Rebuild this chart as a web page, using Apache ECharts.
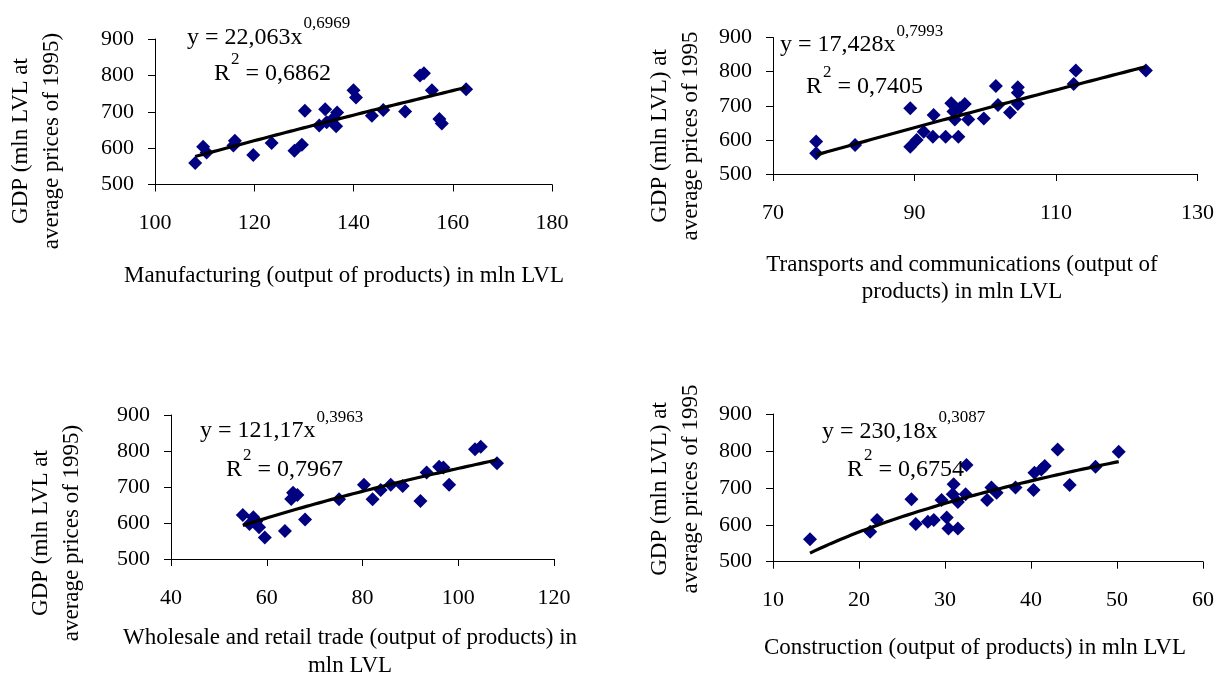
<!DOCTYPE html>
<html>
<head>
<meta charset="utf-8">
<script src="https://cdn.jsdelivr.net/npm/echarts@6/dist/echarts.min.js"></script>
<style>
html,body{margin:0;padding:0;background:#fff;}
#c{width:1217px;height:678px;}
</style>
</head>
<body>
<div id="c"></div>
<script>
// ---------- DATA ----------
// Panel 1: Manufacturing
const manufX = [108.1,109.7,110.4,116.1,115.8,119.8,123.5,128.1,129.6,130.2,133.1,134.3,134.6,136.5,136.7,135.6,140.0,140.5,143.7,146.0,150.4,153.4,154.2,155.8,157.3,157.8,162.7];
const manufY = [559,604,588,620,607,581,614,593,609,703,662,707,671,660,698,677,759,739,689,705,701,800,806,759,680,668,762];
// Panel 2: Transports and communications
const transX = [76.1,76.1,81.6,89.4,89.4,90.3,91.3,92.6,92.7,94.4,95.2,95.5,95.7,96.2,96.4,97.1,97.6,99.8,101.5,101.8,103.5,104.6,104.6,104.6,112.5,112.8,122.7];
const transY = [595,561,585,693,580,600,624,609,673,609,707,683,660,609,693,705,660,663,758,702,680,754,738,705,764,803,803];
// Panel 3: Wholesale and retail trade
const tradeX = [55.0,56.4,57.2,57.8,58.4,59.6,63.8,65.1,65.5,66.4,68.0,75.1,80.3,82.1,83.8,85.9,88.4,92.1,93.4,96.0,96.9,98.1,103.5,104.7,108.1];
const tradeY = [622,597,616,604,588,560,578,667,684,678,610,666,706,666,692,706,703,661,740,756,754,706,805,812,766];
// Panel 4: Construction
const constrX = [14.3,21.3,22.1,26.1,26.6,28.0,28.7,29.6,30.2,30.4,31.0,30.9,31.5,31.5,32.4,32.5,34.9,35.4,36.0,38.2,40.3,40.4,41.2,41.6,43.1,44.5,47.5,50.2];
const constrY = [561,581,613,669,602,608,613,667,620,590,710,683,662,590,683,762,667,701,687,701,694,741,750,759,804,708,757,798];

// Power trendline coefficients shown on the chart: y = a * x^b
const trendA = [22.063, 17.428, 121.17, 230.18];
const trendB = [0.6969, 0.7993, 0.3963, 0.3087];
const eqMain = ['y = 22,063x', 'y = 17,428x', 'y = 121,17x', 'y = 230,18x'];
const eqExp = ['0,6969', '0,7993', '0,3963', '0,3087'];
const r2Text = [' = 0,6862', ' = 0,7405', ' = 0,7967', ' = 0,6754'];

const xMin = [100, 70, 40, 10];
const xMax = [180, 130, 120, 60];
const xStep = [20, 20, 20, 10];
const yMin = 500, yMax = 900, yStep = 100;

const xTitles = [
  ['Manufacturing (output of products) in mln LVL'],
  ['Transports and communications (output of', 'products) in mln LVL'],
  ['Wholesale and retail trade (output of products) in', 'mln LVL'],
  ['Construction (output of products) in mln LVL']
];
const yTitles = [
  'GDP (mln LVL at\naverage prices of 1995)',
  'GDP (mln LVL) at\naverage prices of 1995',
  'GDP (mln LVL at\naverage prices of 1995)',
  'GDP (mln LVL) at\naverage prices of 1995'
];

// ---------- LAYOUT ----------
const FONT = "'Liberation Serif', 'Times New Roman', serif";
const grids = [
  {left: 155, top: 39, width: 397, height: 145.5},
  {left: 773, top: 37.5, width: 425, height: 136.5},
  {left: 171, top: 415, width: 383, height: 144},
  {left: 773, top: 414, width: 431, height: 147.7}
];
const eqPos = [
  {x: 187, y: 37.5, rx: 214, ry: 74},
  {x: 780, y: 45, rx: 806, ry: 86.5},
  {x: 200, y: 431, rx: 226, ry: 470},
  {x: 822, y: 431.5, rx: 847, ry: 470}
];
const xTitlePos = [
  {x: 344, y: [276]},
  {x: 962, y: [265, 292]},
  {x: 350, y: [638, 666]},
  {x: 975, y: [648]}
];
const yTitlePos = [
  {x: 36, y: 141}, {x: 675, y: 136}, {x: 56, y: 533}, {x: 675, y: 489}
];

const xsAll = [manufX, transX, tradeX, constrX];
const ysAll = [manufY, transY, tradeY, constrY];

const measureCtx = document.createElement('canvas').getContext('2d');
function textW(t, size) {
  measureCtx.font = size + 'px ' + FONT;
  return measureCtx.measureText(t).width;
}

const EQ = 24, SUP = 17;
const xAxis = [], yAxis = [], series = [], graphic = [];
for (let i = 0; i < 4; i++) {
  xAxis.push({
    type: 'value', gridIndex: i, min: xMin[i], max: xMax[i], interval: xStep[i],
    axisLine: {show: true, onZero: false, lineStyle: {color: '#000', width: 1}},
    axisTick: {show: true, length: 7, lineStyle: {color: '#000'}},
    splitLine: {show: false},
    axisLabel: {color: '#000', fontFamily: FONT, fontSize: 22, margin: 28}
  });
  yAxis.push({
    type: 'value', gridIndex: i, min: yMin, max: yMax, interval: yStep,
    axisLine: {show: true, onZero: false, lineStyle: {color: '#000', width: 1}},
    axisTick: {show: true, length: 7, lineStyle: {color: '#000'}},
    splitLine: {show: false},
    axisLabel: {color: '#000', fontFamily: FONT, fontSize: 22, margin: 21}
  });
  const xs = xsAll[i], ys = ysAll[i];
  series.push({
    type: 'scatter', xAxisIndex: i, yAxisIndex: i,
    symbol: 'diamond', symbolSize: 14,
    itemStyle: {color: '#000080', opacity: 1},
    data: xs.map((x, k) => [x, ys[k]]), z: 2
  });
  const lo = Math.min(...xs), hi = Math.max(...xs);
  const trend = [];
  const n = 60;
  for (let k = 0; k <= n; k++) {
    const x = lo + (hi - lo) * k / n;
    trend.push([x, trendA[i] * Math.pow(x, trendB[i])]);
  }
  series.push({
    type: 'line', xAxisIndex: i, yAxisIndex: i, data: trend,
    showSymbol: false, symbol: 'none', silent: true,
    lineStyle: {color: '#000', width: 3.2}, z: 3
  });

  // equation texts
  const p = eqPos[i];
  graphic.push({type: 'text', x: p.x, y: p.y, z: 10,
    style: {text: eqMain[i], font: EQ + 'px ' + FONT, fill: '#000', align: 'left', verticalAlign: 'middle'}});
  graphic.push({type: 'text', x: p.x + textW(eqMain[i], EQ) + 1, y: p.y - 13.5, z: 10,
    style: {text: eqExp[i], font: SUP + 'px ' + FONT, fill: '#000', align: 'left', verticalAlign: 'middle'}});
  graphic.push({type: 'text', x: p.rx, y: p.ry, z: 10,
    style: {text: 'R', font: EQ + 'px ' + FONT, fill: '#000', align: 'left', verticalAlign: 'middle'}});
  const rw = textW('R', EQ);
  graphic.push({type: 'text', x: p.rx + rw + 1, y: p.ry - 14, z: 10,
    style: {text: '2', font: SUP + 'px ' + FONT, fill: '#000', align: 'left', verticalAlign: 'middle'}});
  graphic.push({type: 'text', x: p.rx + rw + 1 + textW('2', SUP), y: p.ry, z: 10,
    style: {text: r2Text[i], font: EQ + 'px ' + FONT, fill: '#000', align: 'left', verticalAlign: 'middle'}});

  // axis titles
  const xt = xTitlePos[i];
  xTitles[i].forEach((line, k) => {
    graphic.push({type: 'text', x: xt.x, y: xt.y[k], z: 10,
      style: {text: line, font: '23px ' + FONT, fill: '#000', align: 'center', verticalAlign: 'middle'}});
  });
  const yt = yTitlePos[i];
  graphic.push({type: 'text', x: yt.x, y: yt.y, rotation: Math.PI / 2, z: 10,
    style: {text: yTitles[i], font: '23px ' + FONT, lineHeight: 31, fill: '#000', align: 'center', verticalAlign: 'middle'}});
}

const chart = echarts.init(document.getElementById('c'), null, {renderer: 'canvas'});
chart.setOption({
  animation: false,
  backgroundColor: '#fff',
  grid: grids.map(g => Object.assign({containLabel: false}, g)),
  xAxis, yAxis, series, graphic
});
</script>
</body>
</html>
